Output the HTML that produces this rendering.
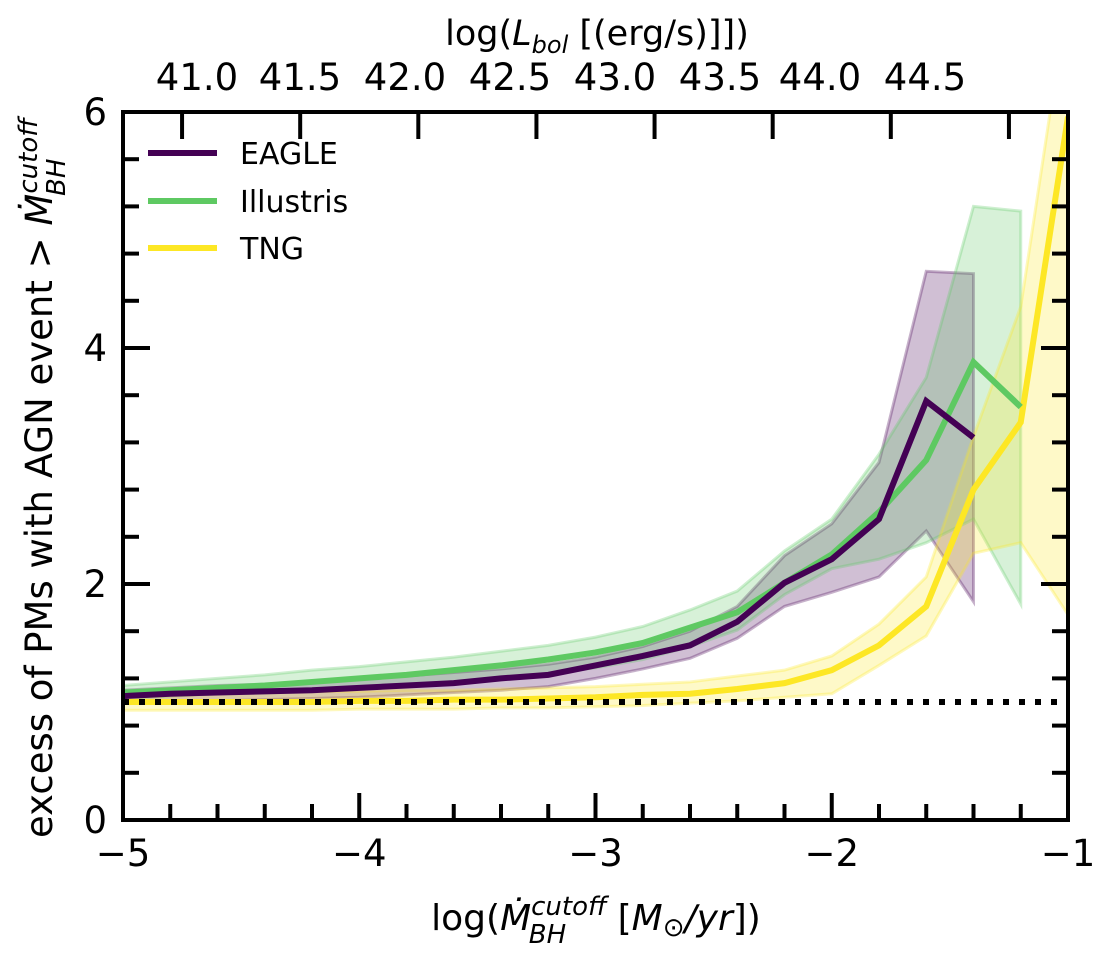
<!DOCTYPE html>
<html><head><meta charset="utf-8"><style>
body{margin:0;background:#fff;width:1110px;height:956px;overflow:hidden}
svg{font-family:"DejaVu Sans","Liberation Sans",sans-serif}
</style></head><body>
<svg id="chart" width="1110" height="956" viewBox="0 0 1110 956" xmlns="http://www.w3.org/2000/svg">
<defs><clipPath id="clip"><rect x="123" y="112" width="945" height="708"/></clipPath></defs>
<g id="bands" clip-path="url(#clip)"></g>
<g id="lines" clip-path="url(#clip)"></g>
<g id="axes"></g>
<g font-size="30">
<line x1="148" y1="153" x2="217" y2="153" stroke="#440154" stroke-width="6"/>
<text x="240" y="164">EAGLE</text>
<line x1="148" y1="201" x2="217" y2="201" stroke="#5ec962" stroke-width="6"/>
<text x="240" y="212">Illustris</text>
<line x1="148" y1="248" x2="217" y2="248" stroke="#fde725" stroke-width="6"/>
<text x="240" y="259">TNG</text>
</g>
<text x="596" y="930" font-size="36" text-anchor="middle">log(<tspan font-style="italic">Ṁ</tspan><tspan font-style="italic" font-size="26" dy="-15">cutoff</tspan><tspan font-style="italic" font-size="26" dx="-78" dy="28">BH</tspan><tspan dx="40" dy="-13"> [</tspan><tspan font-style="italic">M</tspan><tspan font-size="26" dy="6">⊙</tspan><tspan font-style="italic" dy="-6">/yr</tspan>])</text>
<text x="597" y="45" font-size="35" text-anchor="middle">log(<tspan font-style="italic">L</tspan><tspan font-style="italic" font-size="24" dy="8">bol</tspan><tspan dy="-8"> [(erg/s)]])</tspan></text>
<text transform="translate(52,478) rotate(-90)" font-size="37" text-anchor="middle">excess of PMs with AGN event &gt; <tspan font-style="italic">Ṁ</tspan><tspan font-style="italic" font-size="26" dy="-15">cutoff</tspan><tspan font-style="italic" font-size="26" dx="-78" dy="28">BH</tspan></text>
</svg>
<script>
const xGrid=[-5,-4.8,-4.6,-4.4,-4.2,-4.0,-3.8,-3.6,-3.4,-3.2,-3.0,-2.8,-2.6,-2.4,-2.2,-2.0,-1.8,-1.6,-1.4,-1.2,-1.0];
const eagleMid=[1.05,1.07,1.08,1.09,1.10,1.12,1.14,1.16,1.20,1.23,1.31,1.39,1.48,1.68,2.01,2.21,2.55,3.55,3.24];
const eagleLo=[0.99,1.0,1.01,1.02,1.03,1.04,1.06,1.08,1.10,1.13,1.20,1.28,1.37,1.54,1.81,1.93,2.06,2.45,1.85];
const eagleHi=[1.10,1.12,1.14,1.15,1.17,1.20,1.22,1.25,1.28,1.32,1.38,1.47,1.60,1.81,2.24,2.51,3.03,4.65,4.63];
const illMid=[1.08,1.10,1.12,1.14,1.17,1.20,1.23,1.27,1.31,1.36,1.42,1.50,1.63,1.76,2.01,2.25,2.61,3.05,3.88,3.50];
const illHi=[1.14,1.17,1.20,1.23,1.27,1.30,1.34,1.38,1.43,1.48,1.55,1.64,1.78,1.94,2.28,2.55,3.10,3.75,5.20,5.16];
const illLo=[1.03,1.05,1.07,1.08,1.10,1.12,1.14,1.17,1.20,1.24,1.29,1.36,1.47,1.61,1.91,2.13,2.21,2.35,2.55,1.83];
const tngMid=[1.0,1.0,1.0,1.0,1.0,1.01,1.01,1.02,1.02,1.03,1.04,1.06,1.07,1.11,1.16,1.27,1.48,1.81,2.80,3.37,5.96];
const tngHi=[1.08,1.08,1.08,1.09,1.09,1.09,1.10,1.10,1.11,1.12,1.13,1.15,1.17,1.22,1.27,1.39,1.66,2.06,3.25,4.35,7.0];
const tngLo=[0.93,0.93,0.93,0.93,0.93,0.94,0.94,0.94,0.95,0.95,0.96,0.97,0.99,1.01,1.04,1.07,1.31,1.56,2.26,2.35,1.74];
const xTicks=[-5,-4,-3,-2,-1];
const xTickLabels=["−5","−4","−3","−2","−1"];
const yTicks=[0,2,4,6];
const topTickLabels=["41.0","41.5","42.0","42.5","43.0","43.5","44.0","44.5"];
const topLabelX=[197,300,405,510,615,720,820,925];
const refLevel=1;

const NS="http://www.w3.org/2000/svg";
const X0=123,X1=1068,Y0=820,Y1=112;
const sx=v=>X0+(v+5)/4*(X1-X0);
const sy=v=>Y0-v/6*(Y0-Y1);
function mk(tag,attrs,parent){const e=document.createElementNS(NS,tag);for(const k in attrs)e.setAttribute(k,attrs[k]);parent.appendChild(e);return e;}
const bands=document.getElementById('bands'),lines=document.getElementById('lines'),axes=document.getElementById('axes');

function band(lo,hi,col,name){
  const n=lo.length;let pts=[];
  for(let i=0;i<n;i++)pts.push(sx(xGrid[i])+','+sy(hi[i]));
  for(let i=n-1;i>=0;i--)pts.push(sx(xGrid[i])+','+sy(lo[i]));
  const p=mk('polygon',{points:pts.join(' '),fill:col,'fill-opacity':0.25,stroke:col,'stroke-opacity':0.3,'stroke-width':3},bands);
  
  
}
function line(mid,col,name){
  const pts=mid.map((v,i)=>sx(xGrid[i])+','+sy(v)).join(' ');
  const p=mk('polyline',{points:pts,fill:'none',stroke:col,'stroke-width':6,'stroke-linejoin':'miter'},lines);
  
  
}
band(eagleLo,eagleHi,'#440154','eagle-band');
band(illLo,illHi,'#5ec962','illustris-band');
band(tngLo,tngHi,'#fde725','tng-band');
line(tngMid,'#fde725','tng-line');
const ref=mk('line',{x1:X0,x2:X1,y1:sy(refLevel),y2:sy(refLevel),stroke:'#000','stroke-width':6,'stroke-dasharray':'6 10'},lines);


line(illMid,'#5ec962','illustris-line');
line(eagleMid,'#440154','eagle-line');

const fr=mk('rect',{x:X0,y:Y1,width:X1-X0,height:Y0-Y1,fill:'none',stroke:'#000','stroke-width':4},axes);


for(let v=-5;v<=-1.0001+0.2;v+=0.2){const x=sx(v);const maj=Math.abs(v-Math.round(v))<1e-6;mk('line',{x1:x,x2:x,y1:Y0,y2:Y0-(maj?27:16),stroke:'#000','stroke-width':4},axes);}
xTicks.forEach((v,i)=>{const t=mk('text',{x:sx(v),y:866,'font-size':37,'text-anchor':'middle'},axes);t.textContent=xTickLabels[i];

});
for(let k=0;k<=15;k++){const v=k*0.4;const y=sy(v);const maj=Math.abs(v/2-Math.round(v/2))<1e-6;
  mk('line',{x1:X0,x2:X0+(maj?27:16),y1:y,y2:y,stroke:'#000','stroke-width':4},axes);
  mk('line',{x1:X1,x2:X1-(maj?27:16),y1:y,y2:y,stroke:'#000','stroke-width':4},axes);}
yTicks.forEach(v=>{const t=mk('text',{x:107,y:sy(v)+13,'font-size':37,'text-anchor':'end'},axes);t.textContent=String(v);

});
for(let k=0;k<8;k++){const x=sx(-4.75+0.5*k);mk('line',{x1:x,x2:x,y1:Y1,y2:Y1+27,stroke:'#000','stroke-width':4},axes);}
topTickLabels.forEach((s,i)=>{const t=mk('text',{x:topLabelX[i],y:90,'font-size':37,'text-anchor':'middle'},axes);t.textContent=s;

});
</script>
</body></html>
